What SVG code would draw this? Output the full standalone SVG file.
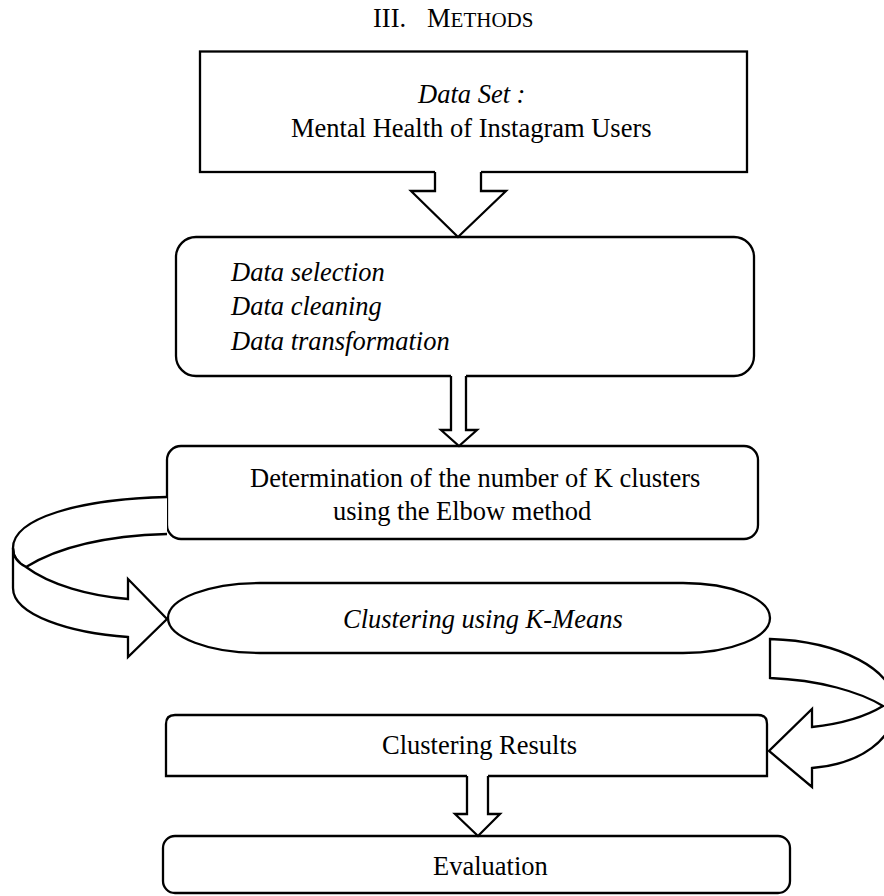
<svg xmlns="http://www.w3.org/2000/svg" width="884" height="896" viewBox="0 0 884 896">
<style>
  .box { fill: #fff; stroke: #000; stroke-width: 2.3; }
  .arr { fill: #fff; stroke: #000; stroke-width: 2.3; stroke-linejoin: miter; }
  .t { font-family: "Liberation Serif", "Times New Roman", serif; font-size: 26.5px; fill: #000; }
  .i { font-style: italic; }
</style>
<rect width="884" height="896" fill="#fff"/>
<text class="t" x="373" y="27">III.</text>
<text class="t" x="427" y="27">M<tspan font-size="21">ETHODS</tspan></text>

<g id="node-dataset">
  <rect class="box" x="200" y="51.5" width="547" height="120.5"/>
  <text class="t i" x="418" y="103">Data Set :</text>
  <text class="t" x="291" y="137">Mental Health of Instagram Users</text>
</g>

<g id="node-preprocess">
  <rect class="box" x="176" y="237" width="578" height="139" rx="20" ry="20"/>
  <text class="t i" x="231" y="281">Data selection</text>
  <text class="t i" x="231" y="315">Data cleaning</text>
  <text class="t i" x="231" y="350">Data transformation</text>
</g>

<g id="node-elbow">
  <rect class="box" x="167" y="446" width="591" height="93" rx="14" ry="14"/>
  <text class="t" x="250" y="487">Determination of the number of K clusters</text>
  <text class="t" x="333" y="520">using the Elbow method</text>
</g>

<g id="node-kmeans">
  <path class="box" d="M260,583 H683 A87,35 0 0 1 683,653 H260 A92,35 0 0 1 260,583 Z"/>
  <text class="t i" x="343" y="628">Clustering using K-Means</text>
</g>

<g id="node-results">
  <path class="box" d="M166,776 V724 Q166,715 175,715 H758 Q767,715 767,724 V776 Z"/>
  <text class="t" x="382" y="754">Clustering Results</text>
</g>

<g id="node-evaluation">
  <rect class="box" x="163" y="836" width="627" height="57" rx="12" ry="12"/>
  <text class="t" x="433" y="875">Evaluation</text>
</g>

<g id="connectors">
  <!-- arrow 1 -->
  <polygon fill="#fff" stroke="none" points="435,170 435,191 411,191 458,237 506,191 481,191 481,170"/>
  <polyline class="arr" fill="none" points="435,172 435,191 411,191 458,237 506,191 481,191 481,172"/>
  <!-- arrow 2 -->
  <polygon fill="#fff" stroke="none" points="451,374 451,430 441,430 459,446 477,430 466,430 466,374"/>
  <polyline class="arr" fill="none" points="451,376 451,430 441,430 459,446 477,430 466,430 466,376"/>
  <!-- arrow 3 -->
  <polygon fill="#fff" stroke="none" points="467,774 467,814 455,814 478,836 500,814 488,814 488,774"/>
  <polyline class="arr" fill="none" points="467,776 467,814 455,814 478,836 500,814 488,814 488,776"/>
  <!-- left curved arrow -->
  <path class="arr" d="M167,497 C80,499 13,518 13,548 C13,556 18,563 26,567 C55,549 100,536 167,534"/>
  <path class="arr" d="M13,548 L13,588 C13,615 70,633 128,637 L128,657 L167,619 L128,579 L128,599 C90,596 50,585 26,567 C18,563 13,556 13,548 Z"/>
  <!-- right curved arrow -->
  <path class="arr" d="M770,639 C840,641 895,670 895,705 C895,740 860,764 812,768 L812,787 L769,751 L812,709 L812,727 C840,724 865,717 883,706 C860,692 820,680 770,678 Z"/>
</g>
</svg>
